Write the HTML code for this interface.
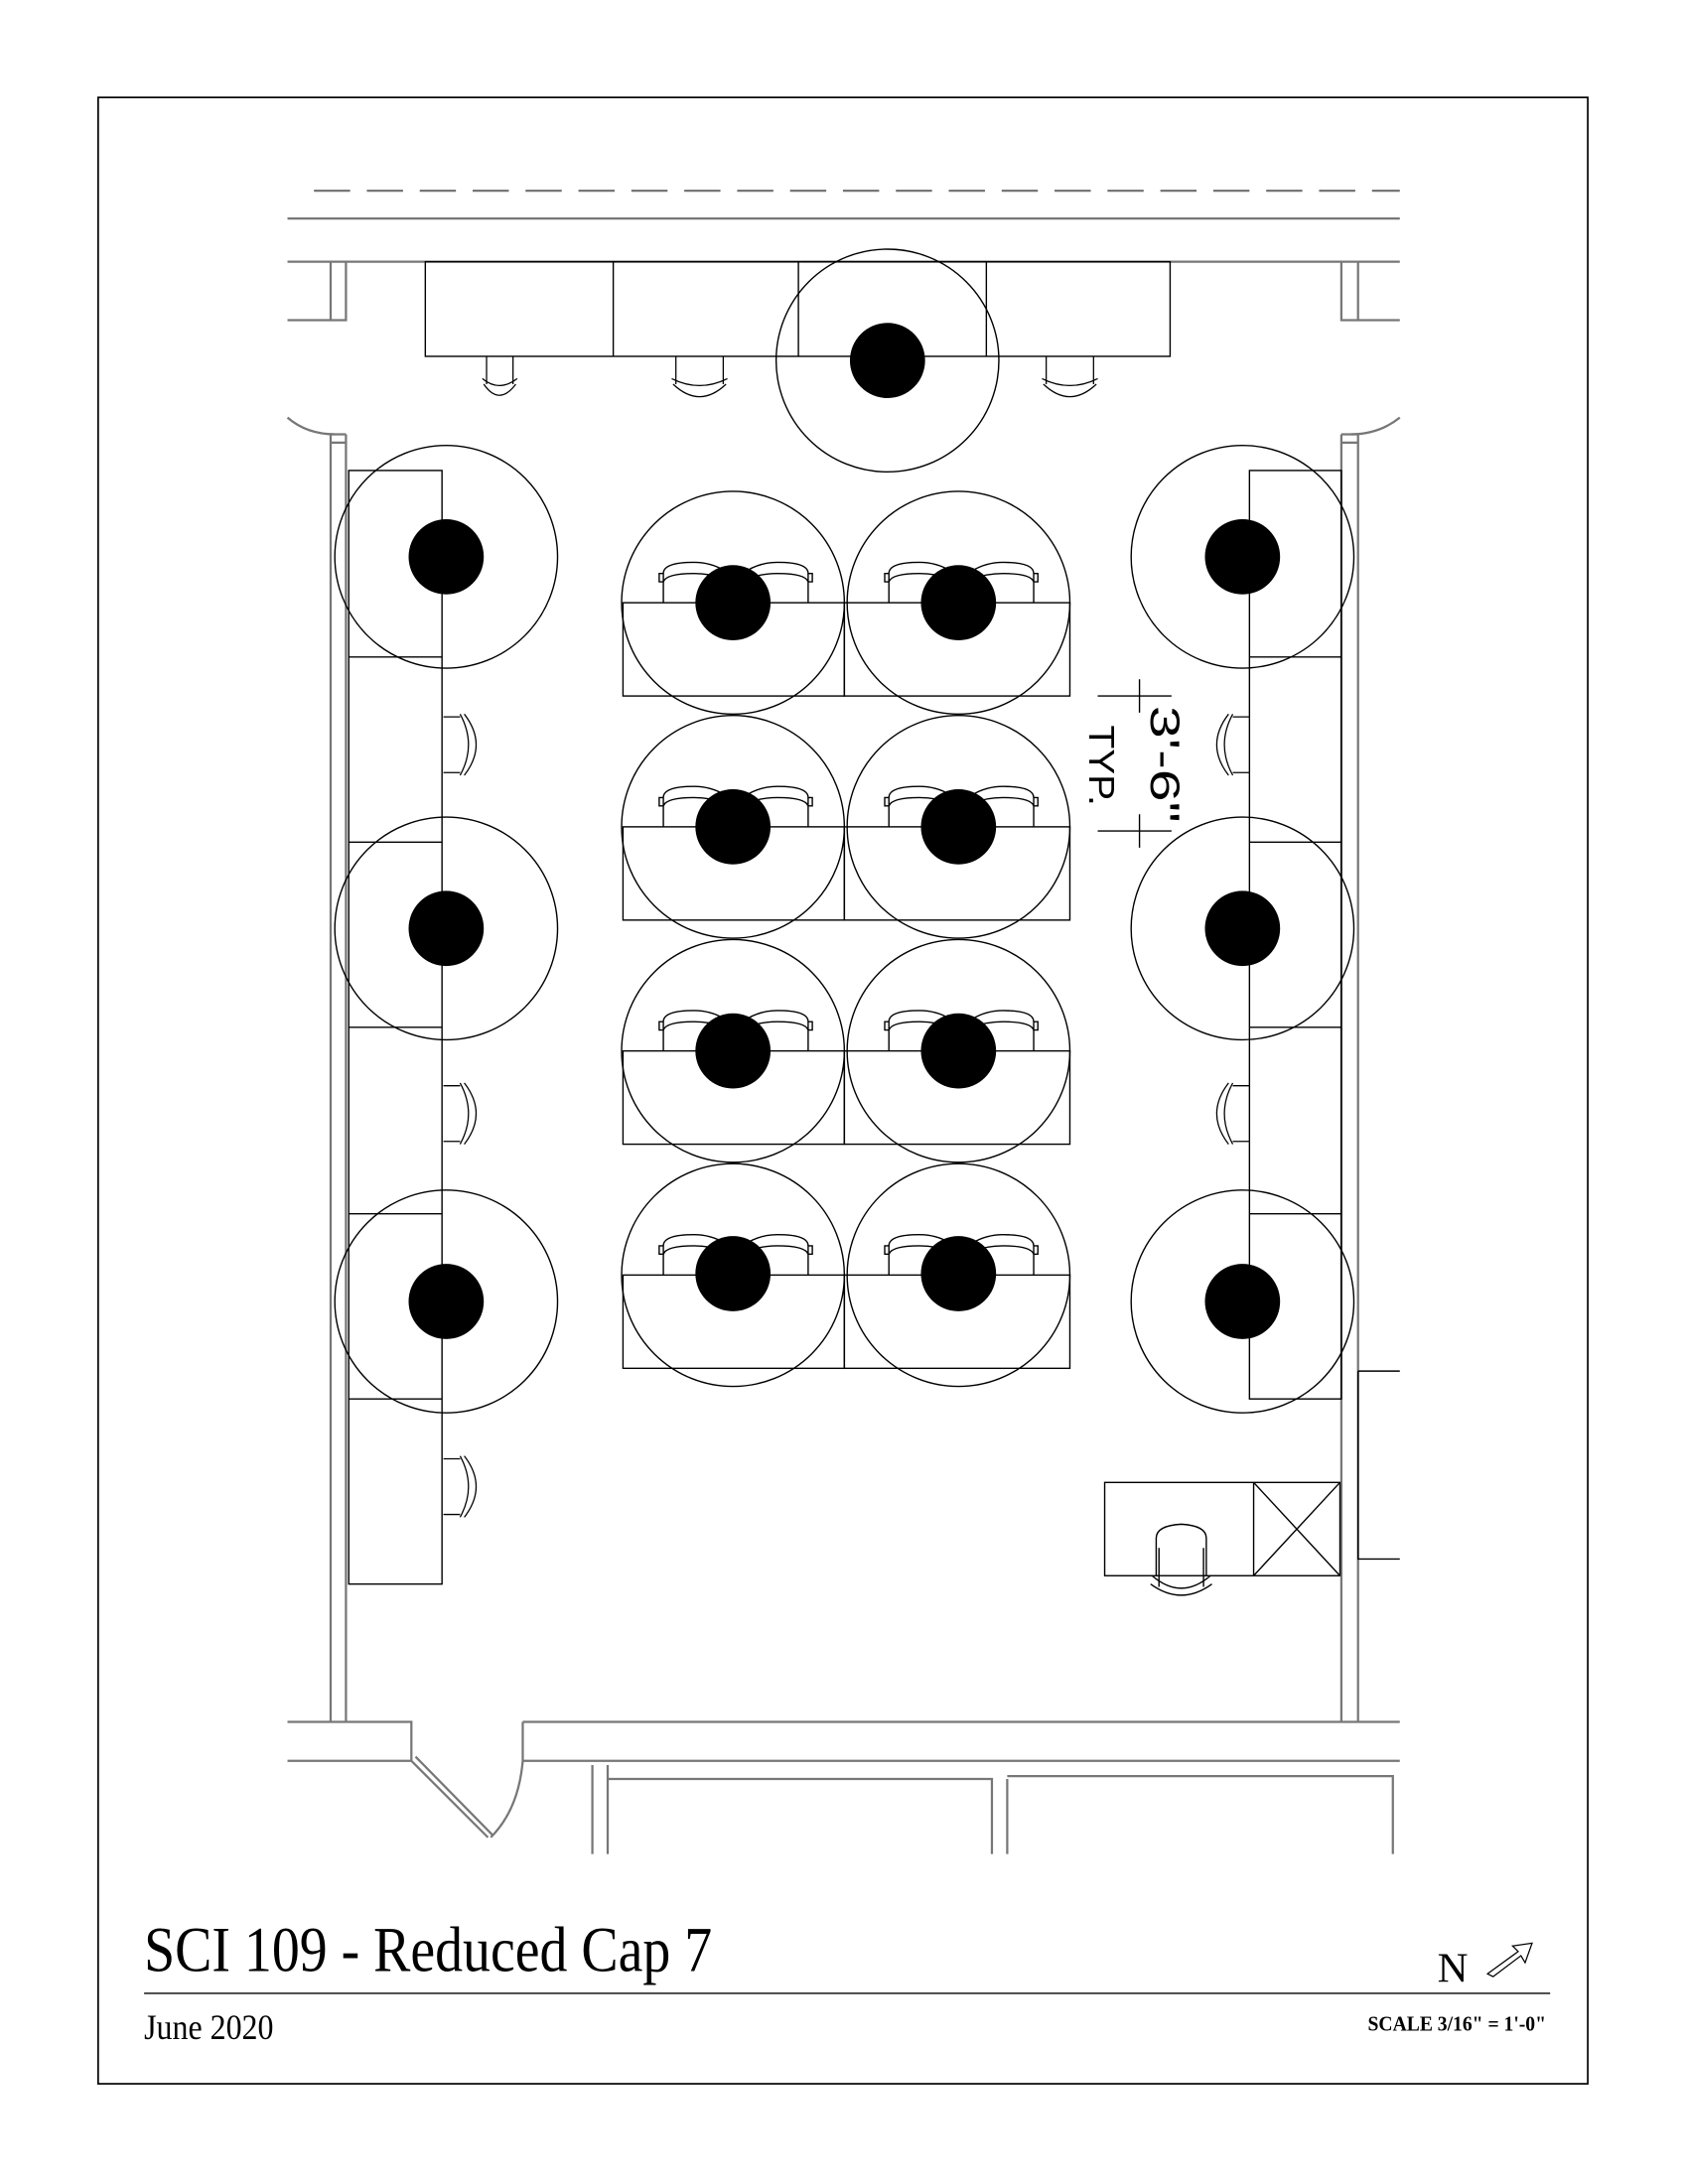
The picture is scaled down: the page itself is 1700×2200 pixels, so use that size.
<!DOCTYPE html>
<html><head><meta charset="utf-8"><style>
html,body{margin:0;padding:0;background:#fff;}
svg{display:block;}
</style></head><body>
<svg width="1700" height="2200" viewBox="-0.5 0 1212.5 1569" preserveAspectRatio="none" xmlns="http://www.w3.org/2000/svg">
<rect width="1212.5" height="1569" x="-0.5" fill="#fff"/>
<!-- frame -->
<rect x="70" y="70" width="1070" height="1427" fill="none" stroke="#000" stroke-width="1.2"/>
<g fill="none" stroke="#777" stroke-width="1.6">
<line x1="225" y1="137" x2="1005" y2="137" stroke-dasharray="26,12"/>
<line x1="206" y1="157" x2="1005" y2="157"/>
<path d="M206,188 H1005 M206,230 H248 V188 M237,188 V230 M963,188 V230 H1005 M975,188 V230"/>
<path d="M206,300 Q220,312 240,312 M1005,300 Q990,312 970,312"/>
<path d="M237,312 H248 M237,318 H248 M237,312 V1237 M248,312 V1237 M963,312 H975 M963,318 H975 M963,312 V1237 M975,312 V1237"/>
<path d="M206,1237 H295 V1265 H206 M375,1237 H1005 M375,1237 V1265 H1005 M295,1265 L350,1320 M298,1262 L353,1318 M352,1320 Q372,1300 375,1265"/>
<path d="M425,1268 V1332 M436,1268 V1332 M436,1278 H712 V1332 M723,1278 V1332 M723,1276 H1000 V1332"/>
<path d="M975,985 H1005 M975,985 V1120 H1005" stroke="#000" stroke-width="1"/>
</g>
<g fill="none" stroke="#000" stroke-width="1">
<rect x="305" y="188" width="535" height="68"/>
<path d="M440,188 V256 M573,188 V256 M708,188 V256"/>
<rect x="250" y="338" width="67" height="800"/>
<path d="M250,472 H317 M250,605 H317 M250,738 H317 M250,872 H317 M250,1005 H317"/>
<rect x="897" y="338" width="66" height="667"/>
<path d="M897,472 H963 M897,605 H963 M897,738 H963 M897,872 H963"/>
<rect x="793" y="1065" width="169" height="67"/>
<path d="M900,1065 V1132 M900,1065 L962,1132 M962,1065 L900,1132"/>
<path d="M830,1132 V1105 Q830,1096 848,1095 Q866,1096 866,1105 V1132 M827,1132 Q848,1150 869,1132 M826,1138 Q848,1154 870,1138 M832,1112 V1140 M864,1112 V1140"/>
<circle cx="637" cy="259" r="80"/>
<circle cx="320" cy="400" r="80"/><circle cx="320" cy="667" r="80"/><circle cx="320" cy="935" r="80"/>
<circle cx="892" cy="400" r="80"/><circle cx="892" cy="667" r="80"/><circle cx="892" cy="935" r="80"/>
</g>
<g fill="none" stroke="#000" stroke-width="0.9">
<path d="M349,256 V276 M368,256 V276 M346,272 Q358,282 371,272 M347,276 Q358,292 370,276"/>
<path d="M485,256 V276 M519,256 V276 M482,272 Q502,282 522,272 M483,276 Q502,294 521,276"/>
<path d="M751,256 V276 M785,256 V276 M748,272 Q768,282 788,272 M749,276 Q768,294 787,276"/>
</g>
<g fill="none" stroke="#000" stroke-width="0.9">
<path d="M318,515 H330 M318,555 H330 M330,513 Q342,535 330,557 M333,513 Q350,535 333,557"/>
<path d="M318,780 H330 M318,820 H330 M330,778 Q342,800 330,822 M333,778 Q350,800 333,822"/>
<path d="M318,1048 H330 M318,1088 H330 M330,1046 Q342,1068 330,1090 M333,1046 Q350,1068 333,1090"/>
<path d="M897,515 H885 M897,555 H885 M885,513 Q873,535 885,557 M882,513 Q865,535 882,557"/>
<path d="M897,780 H885 M897,820 H885 M885,778 Q873,800 885,822 M882,778 Q865,800 882,822"/>
</g>
<g fill="none" stroke="#000" stroke-width="1">
<g id="row">
<rect x="447" y="433" width="159" height="67"/>
<rect x="606" y="433" width="162" height="67"/>
<circle cx="526" cy="433" r="80"/>
<circle cx="688" cy="433" r="80"/>
<path d="M476,433 V412 Q476,404 498,404 Q510,404 520,410 M476,418 Q478,412 498,412 Q510,412 520,416 M476,412 h-3 v6 h3"/>
<path d="M580,433 V412 Q580,404 558,404 Q546,404 536,410 M580,418 Q578,412 558,412 Q546,412 536,416 M580,412 h3 v6 h-3"/>
<path d="M638,433 V412 Q638,404 660,404 Q672,404 682,410 M638,418 Q640,412 660,412 Q672,412 682,416 M638,412 h-3 v6 h3"/>
<path d="M742,433 V412 Q742,404 720,404 Q708,404 698,410 M742,418 Q740,412 720,412 Q708,412 698,416 M742,412 h3 v6 h-3"/>
</g>
<use href="#row" transform="translate(0,161)"/>
<use href="#row" transform="translate(0,322)"/>
<use href="#row" transform="translate(0,483)"/>
</g>
<g fill="#000">
<circle cx="637" cy="259" r="27"/>
<circle cx="320" cy="400" r="27"/><circle cx="320" cy="667" r="27"/><circle cx="320" cy="935" r="27"/>
<circle cx="892" cy="400" r="27"/><circle cx="892" cy="667" r="27"/><circle cx="892" cy="935" r="27"/>
<circle cx="526" cy="433" r="27"/><circle cx="688" cy="433" r="27"/>
<circle cx="526" cy="594" r="27"/><circle cx="688" cy="594" r="27"/>
<circle cx="526" cy="755" r="27"/><circle cx="688" cy="755" r="27"/>
<circle cx="526" cy="915" r="27"/><circle cx="688" cy="915" r="27"/>
</g>
<g stroke="#000" stroke-width="1" fill="none">
<path d="M788,500 H841 M788,597 H841 M818,488 V512 M818,585 V609"/>
</g>
<text transform="translate(826,507) rotate(90)" font-family="Liberation Sans Narrow, Liberation Sans, sans-serif" font-size="30" textLength="84" lengthAdjust="spacingAndGlyphs" fill="#000" font-weight="normal">3'-6"</text>
<text transform="translate(782,521) rotate(90)" font-family="Liberation Sans, sans-serif" font-size="26" textLength="58" lengthAdjust="spacingAndGlyphs" fill="#000">TYP.</text>
<text x="103" y="1416" font-family="Liberation Serif, serif" font-size="46" textLength="408" lengthAdjust="spacingAndGlyphs" fill="#000">SCI 109 - Reduced Cap 7</text>
<line x1="103" y1="1432" x2="1113" y2="1432" stroke="#000" stroke-width="1"/>
<text x="103" y="1465" font-family="Liberation Serif, serif" font-size="26" textLength="93" lengthAdjust="spacingAndGlyphs" fill="#000">June 2020</text>
<text x="1032" y="1424" font-family="Liberation Serif, serif" font-size="30" textLength="22" lengthAdjust="spacingAndGlyphs" fill="#000">N</text>
<path d="M1068,1418 L1090,1402 L1086,1398 L1100,1396 L1095,1410 L1092,1405 L1072,1420 Z" fill="none" stroke="#000" stroke-width="0.9"/>
<text x="1110" y="1459" text-anchor="end" font-family="Liberation Serif, serif" font-size="15" font-weight="bold" textLength="128" lengthAdjust="spacingAndGlyphs" fill="#000">SCALE 3/16" = 1'-0"</text>
</svg>
</body></html>
